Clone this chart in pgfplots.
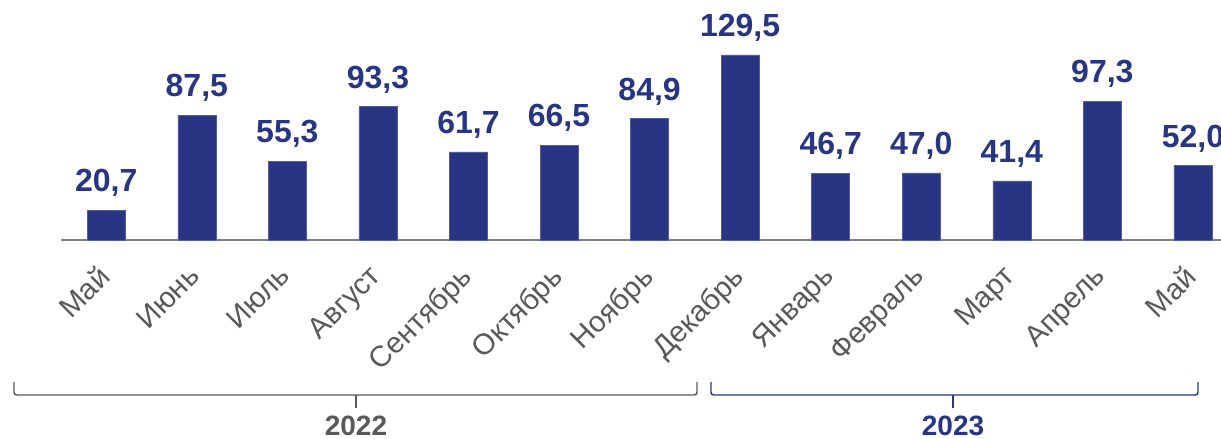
\documentclass[border=0pt]{standalone}
\usepackage{pgfplots}
\pgfplotsset{compat=1.18}
\usepackage{fontspec}
\setmainfont{Liberation Sans}
\definecolor{navy}{RGB}{40,53,131}
\definecolor{txtgray}{RGB}{89,89,89}
\definecolor{axgray}{RGB}{128,128,128}
\begin{document}
\begin{tikzpicture}
\useasboundingbox (-45.75pt,-149.25pt) rectangle (870pt,180pt);
\begin{axis}[
    at={(0,0)}, anchor=south west,
    scale only axis,
    width=870pt, height=180pt,
    xmin=-0.5, xmax=12.31,
    ymin=0, ymax=168,
    ybar, bar width=28.5pt,
    axis x line=bottom, axis y line=none,
    axis line style={-, draw=axgray, line width=1.5pt},
    xtick={0,...,12}, major tick length=0pt,
    xticklabels={Май,Июнь,Июль,Август,Сентябрь,Октябрь,Ноябрь,Декабрь,Январь,Февраль,Март,Апрель,Май},
    xticklabel style={xshift=-7.5pt, yshift=-17.5pt, rotate=45, anchor=north east, inner sep=0pt,
        font=\fontsize{22}{22}\selectfont, text=txtgray},
    nodes near coords,
    every node near coord/.append style={font=\fontsize{24}{24}\selectfont\bfseries, text=navy, inner sep=0pt, yshift=10pt},
    nodes near coords style={/pgf/number format/.cd, assume math mode=true, use comma, fixed, fixed zerofill, precision=1},
    clip=false,
]
\addplot[fill=navy, draw=navy!80!white, line width=0.4pt] coordinates {
    (0,20.7) (1,87.5) (2,55.3) (3,93.3) (4,61.7) (5,66.5) (6,84.9)
    (7,129.5) (8,46.7) (9,47.0) (10,41.4) (11,97.3) (12,52.0)};
\end{axis}
% year brackets
\draw[txtgray, line width=1.1pt, rounded corners=2pt]
    (-35.25pt,-106.5pt) -- (-35.25pt,-116.25pt) -- (477pt,-116.25pt) -- (477pt,-106.5pt);
\draw[txtgray, line width=1.1pt] (221.25pt,-116.25pt) -- (221.25pt,-126pt);
\node[text=txtgray, font=\fontsize{21}{21}\selectfont\bfseries] at (221.25pt,-139.5pt) {2022};
\draw[navy, line width=1.1pt, rounded corners=2pt]
    (487.5pt,-106.5pt) -- (487.5pt,-116.25pt) -- (852.75pt,-116.25pt) -- (852.75pt,-106.5pt);
\draw[navy, line width=1.1pt] (669pt,-116.25pt) -- (669pt,-126pt);
\node[text=navy, font=\fontsize{21}{21}\selectfont\bfseries] at (669pt,-139.5pt) {2023};
\end{tikzpicture}
\end{document}
